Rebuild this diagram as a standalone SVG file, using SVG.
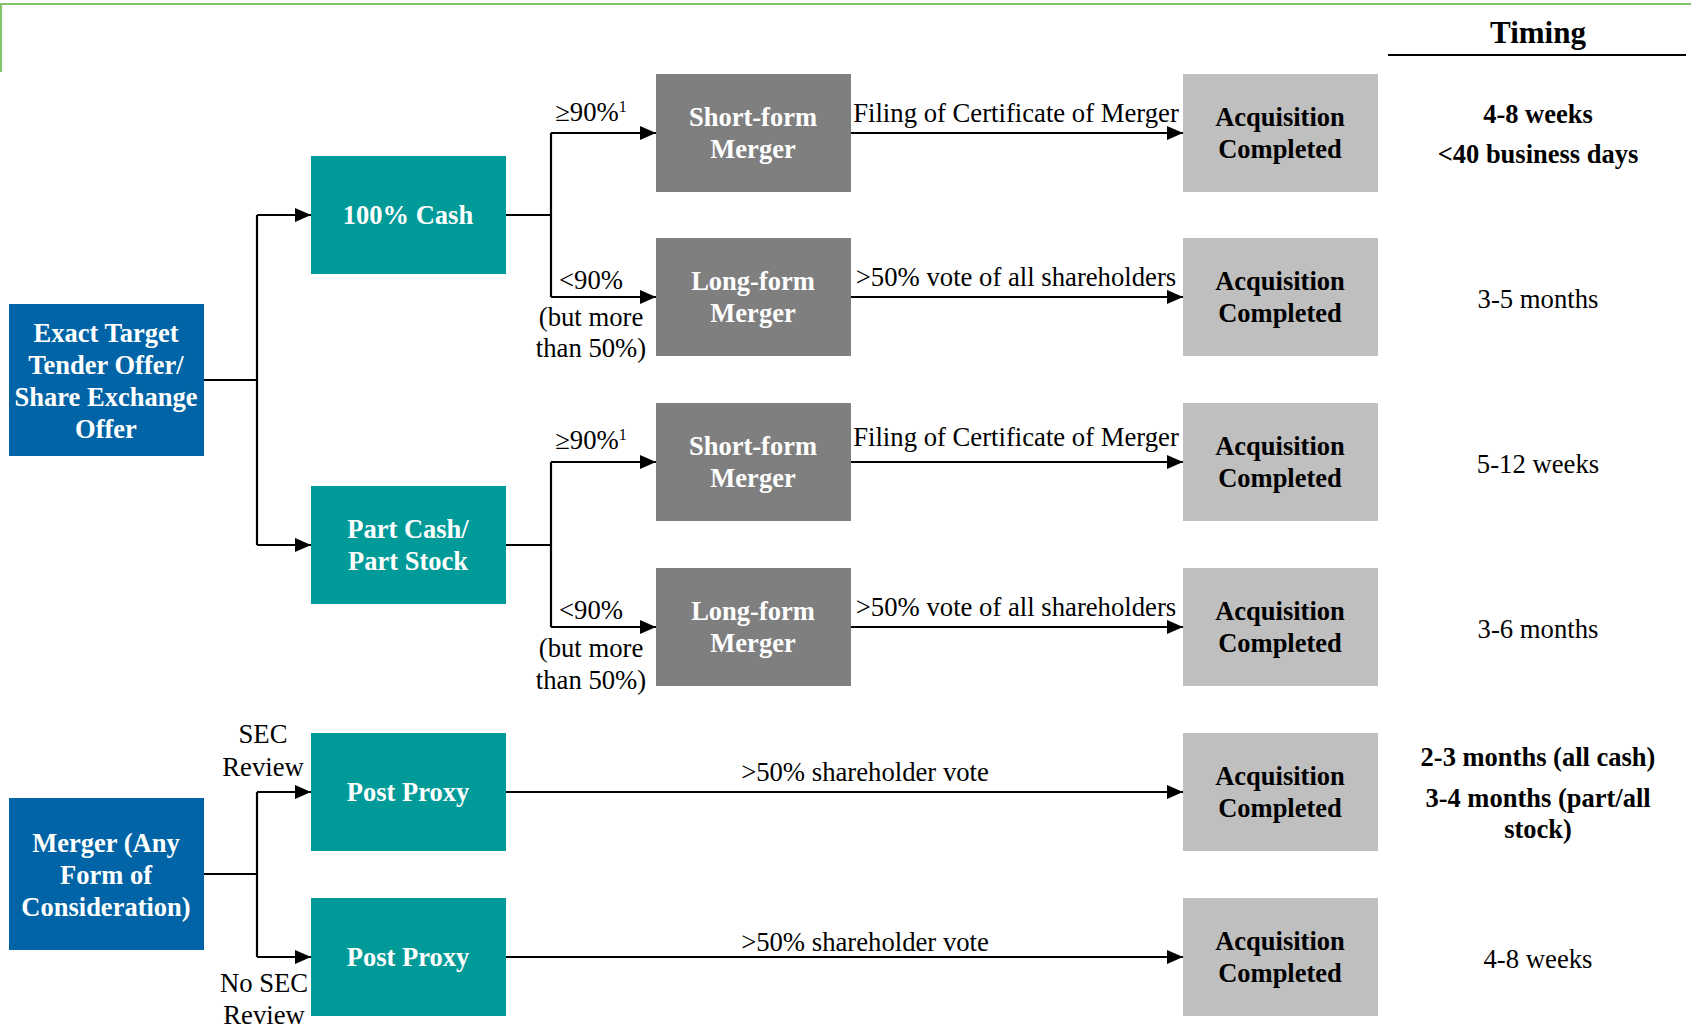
<svg xmlns="http://www.w3.org/2000/svg" width="1691" height="1031" viewBox="0 0 1691 1031">
<style>
text{font-family:"Liberation Serif","Times New Roman",serif;font-size:26.7px;fill:#000}
.w{fill:#fff;font-weight:bold;text-anchor:middle;font-size:26.5px}
.b{font-weight:bold;text-anchor:middle;font-size:26.5px}
.m{text-anchor:middle}
.blue{fill:#0064A6}
.teal{fill:#009A98}
.dk{fill:#7F7F7F}
.lt{fill:#BFBFBF}
.c line,.c path{stroke:#000;stroke-width:2.2;fill:none}
.arr{marker-end:url(#ah)}
</style>
<defs>
<marker id="ah" markerUnits="userSpaceOnUse" markerWidth="17" markerHeight="15" refX="16" refY="7" orient="auto">
<path d="M0,0 L16,7 L0,14 z" fill="#000"/>
</marker>
</defs>
<rect width="1691" height="1031" fill="#fff"/>
<g id="frame">
<path d="M1,72 V4 H1691" stroke="#82C46C" stroke-width="2.2" fill="none"/>
</g>
<g id="timing-header">
<text x="1538" y="43" class="b" style="font-size:31px">Timing</text>
<line x1="1388" y1="55" x2="1686" y2="55" stroke="#000" stroke-width="2.2"/>
</g>

<g class="c" id="connectors">
<path d="M204,380 H257 M257,215 V545"/>
<line class="arr" x1="257" y1="215" x2="311" y2="215"/>
<line class="arr" x1="257" y1="545" x2="311" y2="545"/>
<path d="M506,215 H551 M551,133 V297"/>
<line class="arr" x1="551" y1="133" x2="656" y2="133"/>
<line class="arr" x1="551" y1="297" x2="656" y2="297"/>
<path d="M506,545 H551 M551,462 V627"/>
<line class="arr" x1="551" y1="462" x2="656" y2="462"/>
<line class="arr" x1="551" y1="627" x2="656" y2="627"/>
<line class="arr" x1="851" y1="133" x2="1183" y2="133"/>
<line class="arr" x1="851" y1="297" x2="1183" y2="297"/>
<line class="arr" x1="851" y1="462" x2="1183" y2="462"/>
<line class="arr" x1="851" y1="627" x2="1183" y2="627"/>
<path d="M204,874 H257 M257,792 V957"/>
<line class="arr" x1="257" y1="792" x2="311" y2="792"/>
<line class="arr" x1="257" y1="957" x2="311" y2="957"/>
<line class="arr" x1="506" y1="792" x2="1183" y2="792"/>
<line class="arr" x1="506" y1="957" x2="1183" y2="957"/>
</g>

<g id="edge-labels">
<text x="591" y="121" class="m">≥90%<tspan font-size="16" dy="-9">1</tspan></text>
<text x="591" y="289" class="m">&lt;90%</text>
<text x="591" y="326" class="m">(but more</text>
<text x="591" y="357" class="m">than 50%)</text>
<text x="591" y="449" class="m">≥90%<tspan font-size="16" dy="-9">1</tspan></text>
<text x="591" y="619" class="m">&lt;90%</text>
<text x="591" y="657" class="m">(but more</text>
<text x="591" y="689" class="m">than 50%)</text>
<text x="1016" y="122" class="m">Filing of Certificate of Merger</text>
<text x="1016" y="286" class="m">&gt;50% vote of all shareholders</text>
<text x="1016" y="446" class="m">Filing of Certificate of Merger</text>
<text x="1016" y="616" class="m">&gt;50% vote of all shareholders</text>
<text x="865" y="781" class="m">&gt;50% shareholder vote</text>
<text x="865" y="951" class="m">&gt;50% shareholder vote</text>
<text x="263" y="743" class="m">SEC</text>
<text x="263" y="776" class="m">Review</text>
<text x="264" y="992" class="m">No SEC</text>
<text x="264" y="1024" class="m">Review</text>
</g>

<g id="n-exact">
<rect class="blue" x="9" y="304" width="195" height="152"/>
<text class="w" x="106" y="342">Exact Target</text>
<text class="w" x="106" y="374">Tender Offer/</text>
<text class="w" x="106" y="406">Share Exchange</text>
<text class="w" x="106" y="438">Offer</text>
</g>
<g id="n-merger">
<rect class="blue" x="9" y="798" width="195" height="152"/>
<text class="w" x="106" y="852">Merger (Any</text>
<text class="w" x="106" y="884">Form of</text>
<text class="w" x="106" y="916">Consideration)</text>
</g>
<g id="n-cash">
<rect class="teal" x="311" y="156" width="195" height="118"/>
<text class="w" x="408" y="224">100% Cash</text>
</g>
<g id="n-part">
<rect class="teal" x="311" y="486" width="195" height="118"/>
<text class="w" x="408" y="538">Part Cash/</text>
<text class="w" x="408" y="570">Part Stock</text>
</g>
<g id="n-proxy1">
<rect class="teal" x="311" y="733" width="195" height="118"/>
<text class="w" x="408" y="801">Post Proxy</text>
</g>
<g id="n-proxy2">
<rect class="teal" x="311" y="898" width="195" height="118"/>
<text class="w" x="408" y="966">Post Proxy</text>
</g>
<g id="n-short1">
<rect class="dk" x="656" y="74" width="195" height="118"/>
<text class="w" x="753" y="126">Short-form</text>
<text class="w" x="753" y="158">Merger</text>
</g>
<g id="n-long1">
<rect class="dk" x="656" y="238" width="195" height="118"/>
<text class="w" x="753" y="290">Long-form</text>
<text class="w" x="753" y="322">Merger</text>
</g>
<g id="n-short2">
<rect class="dk" x="656" y="403" width="195" height="118"/>
<text class="w" x="753" y="455">Short-form</text>
<text class="w" x="753" y="487">Merger</text>
</g>
<g id="n-long2">
<rect class="dk" x="656" y="568" width="195" height="118"/>
<text class="w" x="753" y="620">Long-form</text>
<text class="w" x="753" y="652">Merger</text>
</g>
<g id="n-acq1">
<rect class="lt" x="1183" y="74" width="195" height="118"/>
<text class="b" x="1280" y="126">Acquisition</text>
<text class="b" x="1280" y="158">Completed</text>
</g>
<g id="n-acq2">
<rect class="lt" x="1183" y="238" width="195" height="118"/>
<text class="b" x="1280" y="290">Acquisition</text>
<text class="b" x="1280" y="322">Completed</text>
</g>
<g id="n-acq3">
<rect class="lt" x="1183" y="403" width="195" height="118"/>
<text class="b" x="1280" y="455">Acquisition</text>
<text class="b" x="1280" y="487">Completed</text>
</g>
<g id="n-acq4">
<rect class="lt" x="1183" y="568" width="195" height="118"/>
<text class="b" x="1280" y="620">Acquisition</text>
<text class="b" x="1280" y="652">Completed</text>
</g>
<g id="n-acq5">
<rect class="lt" x="1183" y="733" width="195" height="118"/>
<text class="b" x="1280" y="785">Acquisition</text>
<text class="b" x="1280" y="817">Completed</text>
</g>
<g id="n-acq6">
<rect class="lt" x="1183" y="898" width="195" height="118"/>
<text class="b" x="1280" y="950">Acquisition</text>
<text class="b" x="1280" y="982">Completed</text>
</g>

<g id="timing">
<text class="b" x="1538" y="123">4-8 weeks</text>
<text class="b" x="1538" y="163">&lt;40 business days</text>
<text class="m" x="1538" y="308">3-5 months</text>
<text class="m" x="1538" y="473">5-12 weeks</text>
<text class="m" x="1538" y="638">3-6 months</text>
<text class="b" x="1538" y="766">2-3 months (all cash)</text>
<text class="b" x="1538" y="807">3-4 months (part/all</text>
<text class="b" x="1538" y="838">stock)</text>
<text class="m" x="1538" y="968">4-8 weeks</text>
</g>
</svg>
